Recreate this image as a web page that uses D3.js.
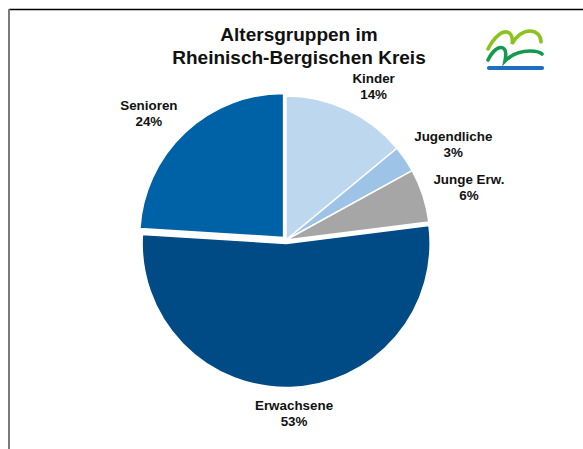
<!DOCTYPE html>
<html>
<head>
<meta charset="utf-8">
<script src="https://cdn.jsdelivr.net/npm/d3@7"></script>
<style>
  body { margin: 0; background: #fff; }
  text { font-family: "Liberation Sans", Arial, Helvetica, sans-serif; font-weight: bold; fill: #111; }
</style>
</head>
<body>
<div id="chart"></div>
<script>
// data
var categories = ["Kinder", "Jugendliche", "Junge Erw.", "Erwachsene", "Senioren"];
var shares = [14, 3, 6, 53, 24];
var colours = ["#bdd7ee", "#9dc3e6", "#a6a6a6", "#004b85", "#0062a6"];
var exploded = ["Erwachsene", "Senioren"];
var titleLines = ["Altersgruppen im", "Rheinisch-Bergischen Kreis"];

var W = 583, H = 449;
var cx = 286, cy = 240, R = 144;

var svg = d3.select("#chart").append("svg")
    .attr("width", W)
    .attr("height", H);

// frame (cut off at right and bottom)
svg.append("line").attr("x1", 9).attr("x2", W).attr("y1", 9.5).attr("y2", 9.5)
    .attr("stroke", "#000").attr("stroke-width", 1.5);
svg.append("line").attr("x1", 9).attr("x2", 9).attr("y1", 9).attr("y2", H)
    .attr("stroke", "#7a7a7a").attr("stroke-width", 2);

// title
svg.append("g").selectAll("text")
    .data(titleLines)
    .enter()
    .append("text")
    .attr("x", 299)
    .attr("y", function(d, i){ return 41 + i * 22.5; })
    .attr("text-anchor", "middle")
    .style("font-size", "19px")
    .text(function(d){ return d; });

var table = categories.map(function(c, i){ return {name: c, value: shares[i], colour: colours[i]}; });

var pie = d3.pie().sort(null).value(function(d){ return d.value; });
var arcs = pie(table);
var arc = d3.arc().innerRadius(0).outerRadius(R);

function explodeOffset(d){
    if (exploded.indexOf(d.data.name) < 0) return [0, 0];
    var a = (d.startAngle + d.endAngle) / 2, k = 3.5;
    return [Math.sin(a) * k, -Math.cos(a) * k];
}

var g = svg.append("g").attr("transform", "translate(" + cx + "," + cy + ")");

g.selectAll(".slice")
    .data(arcs)
    .enter()
    .append("path")
    .attr("class", "slice")
    .attr("d", arc)
    .attr("transform", function(d){ var o = explodeOffset(d); return "translate(" + o[0] + "," + o[1] + ")"; })
    .attr("fill", function(d){ return d.data.colour; })
    .attr("stroke", "#fff")
    .attr("stroke-width", 1.5)
    .attr("stroke-linejoin", "round");

// labels, box edge placed just outside the pie
var gap = 11, lineH = 15.5, fs = 13.4;
var labels = g.selectAll(".lbl")
    .data(arcs)
    .enter()
    .append("g")
    .attr("class", "lbl");

labels.append("text")
    .attr("text-anchor", "middle")
    .style("font-size", fs + "px")
    .each(function(d){
        var t = d3.select(this);
        t.append("tspan").attr("x", 0).attr("y", -lineH / 2 + 4.6).text(d.data.name);
        t.append("tspan").attr("x", 0).attr("y", lineH / 2 + 4.6).text(d.data.value + "%");
    });

labels.attr("transform", function(d){
    var bb = this.getBBox();
    var a = (d.startAngle + d.endAngle) / 2;
    var s = Math.sin(a), c = -Math.cos(a);
    var o = explodeOffset(d);
    var x = (R + gap) * s + bb.width / 2 * Math.max(-1, Math.min(1, s * 2.5)) + o[0];
    var y = (R + gap) * c + 15 * c + o[1];
    return "translate(" + x + "," + y + ")";
});

// logo (top right)
var logo = svg.append("g").attr("transform", "translate(486,28)").attr("fill", "none")
    .attr("stroke-linecap", "round");
logo.append("path")
    .attr("d", "M2,21 C8,9 16,3 21,4 C26,5 27,11 26,16 C30,8 37,3 44,3 C51,3 55,8 55,14")
    .attr("stroke", "#8cc21f").attr("stroke-width", 3.6);
logo.append("path")
    .attr("d", "M2,32 C7,22 13,18 17,20 C21,22 20,28 19,33 C26,26 36,23 44,23 C50,23 54,24 56,26")
    .attr("stroke", "#139a4e").attr("stroke-width", 3.6);
logo.append("path")
    .attr("d", "M3,40 L56,40")
    .attr("stroke", "#1f6fc0").attr("stroke-width", 4.2);
</script>
</body>
</html>
